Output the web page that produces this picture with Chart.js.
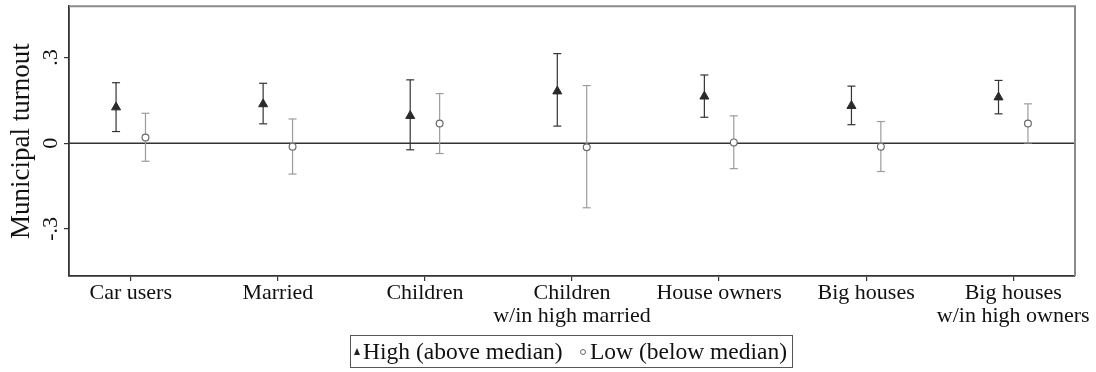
<!DOCTYPE html>
<html>
<head>
<meta charset="utf-8">
<script src="https://cdn.jsdelivr.net/npm/chart.js@4.4.1/dist/chart.umd.min.js"></script>
<style>
  html, body { margin: 0; padding: 0; background: #fff; }
  #wrap { position: relative; width: 1096px; height: 372px; }
  #legend {
    position: absolute; left: 350px; top: 335px; width: 441px; height: 31px;
    border: 1px solid #555; font-family: 'Liberation Serif', serif; font-size: 23.5px; color: #111;
  }
  #legend span { position: absolute; top: 2px; line-height: 26px; white-space: nowrap; }
  .tri { position: absolute; left: 3px; top: 12px; width: 0; height: 0;
    border-left: 3.5px solid transparent; border-right: 3.5px solid transparent; border-bottom: 7px solid #222; }
  .circ { position: absolute; left: 229px; top: 13px; width: 4px; height: 4px; border: 1px solid #666; border-radius: 50%; background: #fff; }
</style>
</head>
<body>
<div id="wrap">
  <canvas id="chart" width="1096" height="372"></canvas>
  <div id="legend">
    <div class="tri"></div><span style="left:12px">High (above median)</span>
    <div class="circ"></div><span style="left:239px">Low (below median)</span>
  </div>
</div>
<script>
const categories = [
  'Car users', 'Married', 'Children', ['Children', 'w/in high married'],
  'House owners', 'Big houses', ['Big houses', 'w/in high owners'],
];
const highEst = [0.126, 0.137, 0.096, 0.182, 0.164, 0.131, 0.161];
const highLo = [0.041, 0.068, -0.023, 0.06, 0.091, 0.065, 0.103];
const highHi = [0.212, 0.21, 0.222, 0.314, 0.239, 0.2, 0.22];
const lowEst = [0.02, -0.012, 0.069, -0.014, 0.003, -0.012, 0.069];
const lowLo = [-0.063, -0.108, -0.036, -0.226, -0.089, -0.099, 0.001];
const lowHi = [0.105, 0.085, 0.174, 0.202, 0.096, 0.076, 0.138];
const yTicks = [-0.3, 0, 0.3];
const yTickLabels = ['-.3', '0', '.3'];

const HIGH_OFF = -0.1;
const LOW_OFF = 0.1;

Chart.defaults.font.family = "'Liberation Serif', serif";
Chart.defaults.color = '#111';

function seg(ctx, x1, y1, x2, y2) {
  ctx.beginPath();
  ctx.moveTo(x1, y1);
  ctx.lineTo(x2, y2);
  ctx.stroke();
}

const errorBars = {
  id: 'errorBars',
  beforeDatasetsDraw(chart) {
    const { ctx, chartArea: a, scales: { x, y } } = chart;
    ctx.save();
    ctx.strokeStyle = '#333';
    ctx.lineWidth = 1.6;
    const y0 = y.getPixelForValue(0);
    seg(ctx, a.left, y0, a.right, y0);

    const bars = (lo, hi, off, color) => {
      ctx.strokeStyle = color;
      ctx.lineWidth = 1.2;
      lo.forEach((v, i) => {
        const px = x.getPixelForValue(i + 1 + off);
        const p1 = y.getPixelForValue(v);
        const p2 = y.getPixelForValue(hi[i]);
        seg(ctx, px, p1, px, p2);
        seg(ctx, px - 4, p1, px + 4, p1);
        seg(ctx, px - 4, p2, px + 4, p2);
      });
    };
    bars(highLo, highHi, HIGH_OFF, '#333');
    bars(lowLo, lowHi, LOW_OFF, '#9c9c9c');
    ctx.restore();
  },
  afterDraw(chart) {
    const { ctx, chartArea: a, scales: { y } } = chart;
    ctx.save();
    ctx.strokeStyle = '#8a8a8a';
    ctx.lineWidth = 2;
    ctx.beginPath();
    ctx.moveTo(a.left, a.top);
    ctx.lineTo(a.right, a.top);
    ctx.lineTo(a.right, a.bottom);
    ctx.stroke();

    ctx.fillStyle = '#111';
    ctx.font = "22px 'Liberation Serif', serif";
    ctx.textAlign = 'center';
    ctx.textBaseline = 'middle';
    yTicks.forEach((v, i) => {
      ctx.save();
      ctx.translate(51, y.getPixelForValue(v));
      ctx.rotate(-Math.PI / 2);
      ctx.fillText(yTickLabels[i], 0, 0);
      ctx.restore();
    });
    ctx.restore();
  },
};

new Chart(document.getElementById('chart'), {
  type: 'scatter',
  data: {
    datasets: [
      {
        label: 'High (above median)',
        data: highEst.map((v, i) => ({ x: i + 1 + HIGH_OFF, y: v })),
        pointStyle: 'triangle',
        pointRadius: 5.2,
        backgroundColor: '#2a2a2a',
        borderColor: '#2a2a2a',
        borderWidth: 1,
      },
      {
        label: 'Low (below median)',
        data: lowEst.map((v, i) => ({ x: i + 1 + LOW_OFF, y: v })),
        pointStyle: 'circle',
        pointRadius: 3.4,
        backgroundColor: '#fff',
        borderColor: '#6a6a6a',
        borderWidth: 1.2,
      },
    ],
  },
  options: {
    responsive: false,
    animation: false,
    layout: { padding: { left: 0, right: 21, top: 6, bottom: 0 } },
    plugins: { legend: { display: false }, tooltip: { enabled: false } },
    scales: {
      x: {
        type: 'linear',
        min: 0.58,
        max: 7.42,
        afterBuildTicks: (s) => { s.ticks = categories.map((_, i) => ({ value: i + 1 })); },
        afterFit: (s) => { s.height = 96; },
        ticks: {
          callback: (v, i) => categories[i],
          font: { size: 22, lineHeight: 1.08 },
          color: '#111',
          padding: 0,
          maxRotation: 0,
          autoSkip: false,
        },
        grid: { drawOnChartArea: false, drawTicks: true, tickLength: 5, color: '#333', lineWidth: 1.2 },
        border: { display: true, color: '#333', width: 1.8 },
      },
      y: {
        min: -0.465,
        max: 0.48,
        afterBuildTicks: (s) => { s.ticks = yTicks.map((v) => ({ value: v })); },
        afterFit: (s) => { s.width = 69; },
        ticks: { display: false },
        grid: { drawOnChartArea: false, drawTicks: true, tickLength: 5, color: '#333', lineWidth: 1.2 },
        border: { display: true, color: '#333', width: 1.8 },
        title: {
          display: true,
          text: 'Municipal turnout',
          font: { size: 27 },
          color: '#111',
          padding: { top: 6, bottom: 0 },
        },
      },
    },
  },
  plugins: [errorBars],
});
</script>
</body>
</html>
